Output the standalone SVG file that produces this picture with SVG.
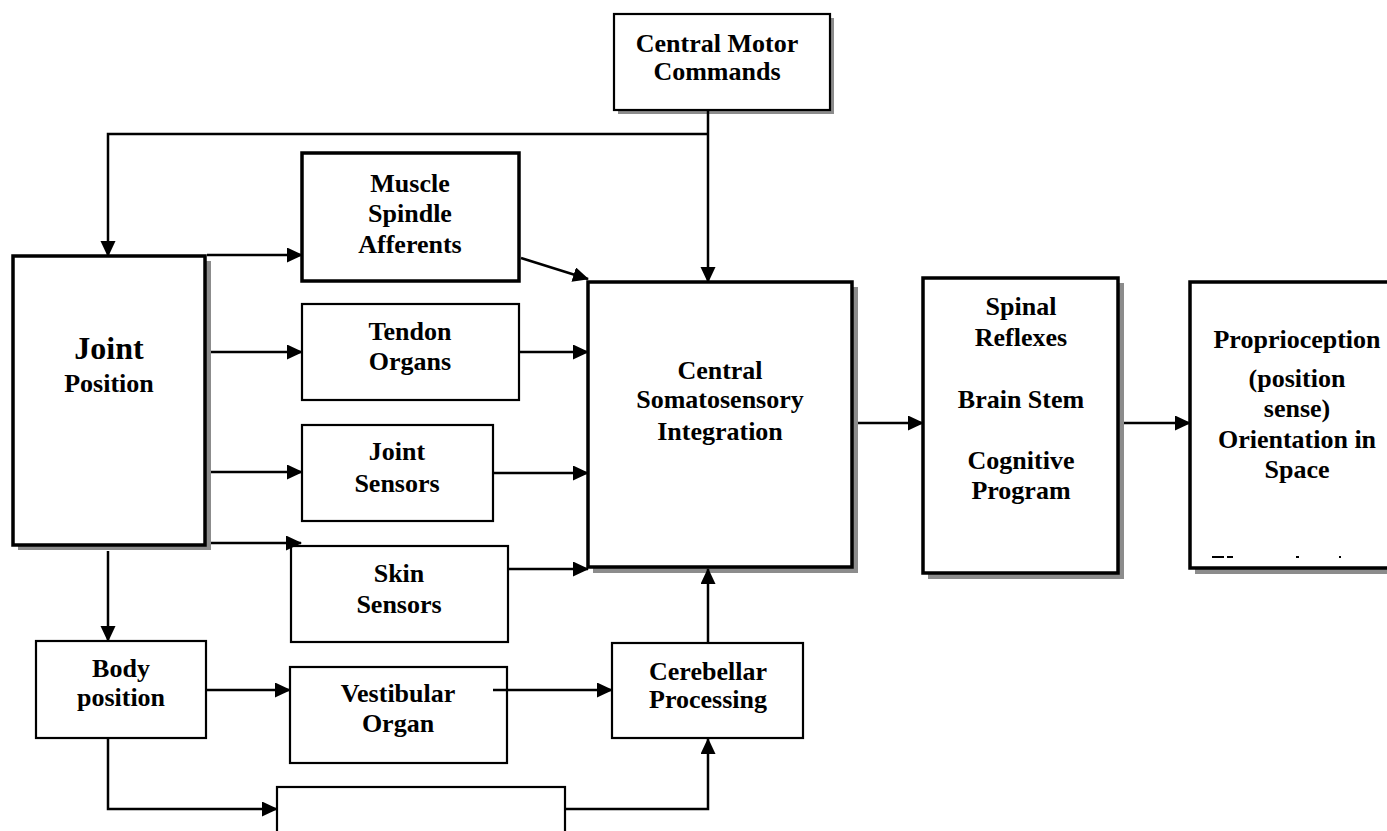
<svg xmlns="http://www.w3.org/2000/svg" width="1387" height="831" viewBox="0 0 1387 831">
<style>
.bg{fill:#fff}
.box{fill:#fff;stroke:#000;stroke-width:2.2}
.thick{fill:#fff;stroke:#000;stroke-width:3.5}
.shadow{fill:#8c8c8c}
.t{font-family:"Liberation Serif","Times New Roman",serif;font-weight:bold;font-size:26px;fill:#000;text-anchor:middle}
.c{fill:none;stroke:#000;stroke-width:2.5}
</style>
<defs>
<marker id="ah" markerUnits="userSpaceOnUse" markerWidth="16" markerHeight="16" refX="15" refY="7.5" orient="auto">
<path d="M0,0 L16,7.5 L0,15 z" fill="#000"/>
</marker>
</defs>
<rect class="bg" x="0" y="0" width="1387" height="831"/>

<g id="central-motor-commands">
<rect class="shadow" x="618" y="18" width="216" height="96"/>
<rect class="box" x="614" y="14" width="216" height="96"/>
<text class="t" x="717" y="52">Central Motor</text>
<text class="t" x="717" y="80">Commands</text>
</g>

<g id="joint-position">
<rect class="shadow" x="18" y="261" width="193" height="289"/>
<rect class="thick" x="13" y="256" width="192" height="289"/>
<text class="t" x="109" y="359" style="font-size:32px">Joint</text>
<text class="t" x="109" y="392">Position</text>
</g>

<g id="muscle-spindle">
<rect class="thick" x="302" y="153" width="217" height="128"/>
<text class="t" x="410" y="192">Muscle</text>
<text class="t" x="410" y="222">Spindle</text>
<text class="t" x="410" y="253">Afferents</text>
</g>

<g id="tendon-organs">
<rect class="box" x="302" y="304" width="217" height="96"/>
<text class="t" x="410" y="340">Tendon</text>
<text class="t" x="410" y="370">Organs</text>
</g>

<g id="joint-sensors">
<rect class="box" x="302" y="425" width="191" height="96"/>
<text class="t" x="397" y="460">Joint</text>
<text class="t" x="397" y="492">Sensors</text>
</g>

<g id="skin-sensors">
<rect class="box" x="291" y="546" width="217" height="96"/>
<text class="t" x="399" y="582">Skin</text>
<text class="t" x="399" y="613">Sensors</text>
</g>

<g id="central-somatosensory-integration">
<rect class="shadow" x="593" y="287" width="265" height="286"/>
<rect class="thick" x="588" y="282" width="264" height="285"/>
<text class="t" x="720" y="379">Central</text>
<text class="t" x="720" y="408">Somatosensory</text>
<text class="t" x="720" y="440">Integration</text>
</g>

<g id="spinal-brainstem-cognitive">
<rect class="shadow" x="928" y="283" width="196" height="296"/>
<rect class="thick" x="923" y="278" width="195" height="295"/>
<text class="t" x="1021" y="315">Spinal</text>
<text class="t" x="1021" y="346">Reflexes</text>
<text class="t" x="1021" y="408">Brain Stem</text>
<text class="t" x="1021" y="469">Cognitive</text>
<text class="t" x="1021" y="499">Program</text>
</g>

<g id="proprioception">
<rect class="shadow" x="1195" y="287" width="215" height="287"/>
<rect class="thick" x="1190" y="282" width="214" height="286"/>
<text class="t" x="1297" y="348">Proprioception</text>
<text class="t" x="1297" y="387">(position</text>
<text class="t" x="1297" y="417">sense)</text>
<text class="t" x="1297" y="448">Orientation in</text>
<text class="t" x="1297" y="478">Space</text>
<rect x="1212" y="556" width="12" height="2" fill="#000"/>
<rect x="1227" y="556" width="6" height="2" fill="#000"/>
<rect x="1296" y="556" width="3" height="2" fill="#000"/>
<rect x="1339" y="556" width="2" height="2" fill="#000"/>
</g>

<g id="body-position">
<rect class="box" x="36" y="641" width="170" height="97"/>
<text class="t" x="121" y="677">Body</text>
<text class="t" x="121" y="706">position</text>
</g>

<g id="vestibular-organ">
<rect class="box" x="290" y="667" width="217" height="96"/>
<text class="t" x="398" y="702">Vestibular</text>
<text class="t" x="398" y="732">Organ</text>
</g>

<g id="cerebellar-processing">
<rect class="box" x="612" y="643" width="191" height="95"/>
<text class="t" x="708" y="680">Cerebellar</text>
<text class="t" x="708" y="708">Processing</text>
</g>

<g id="unlabelled-box">
<rect class="box" x="277" y="787" width="288" height="60"/>
</g>

<g id="connectors">
<path class="c" d="M708,111 V282" marker-end="url(#ah)"/>
<path class="c" d="M708,134 H108 V256" marker-end="url(#ah)"/>
<path class="c" d="M207,255 H302" marker-end="url(#ah)"/>
<path class="c" d="M211,352 H302" marker-end="url(#ah)"/>
<path class="c" d="M211,472 H302" marker-end="url(#ah)"/>
<path class="c" d="M211,543 H301" marker-end="url(#ah)"/>
<path class="c" d="M521,258 L588,279" marker-end="url(#ah)"/>
<path class="c" d="M520,352 H588" marker-end="url(#ah)"/>
<path class="c" d="M494,473 H588" marker-end="url(#ah)"/>
<path class="c" d="M509,569 H588" marker-end="url(#ah)"/>
<path class="c" d="M108,551 V641" marker-end="url(#ah)"/>
<path class="c" d="M207,690 H290" marker-end="url(#ah)"/>
<path class="c" d="M493,690 H612" marker-end="url(#ah)"/>
<path class="c" d="M108,739 V809 H277" marker-end="url(#ah)"/>
<path class="c" d="M566,809 H708 V739" marker-end="url(#ah)"/>
<path class="c" d="M708,642 V569" marker-end="url(#ah)"/>
<path class="c" d="M858,423 H923" marker-end="url(#ah)"/>
<path class="c" d="M1124,423 H1190" marker-end="url(#ah)"/>
</g>
</svg>
